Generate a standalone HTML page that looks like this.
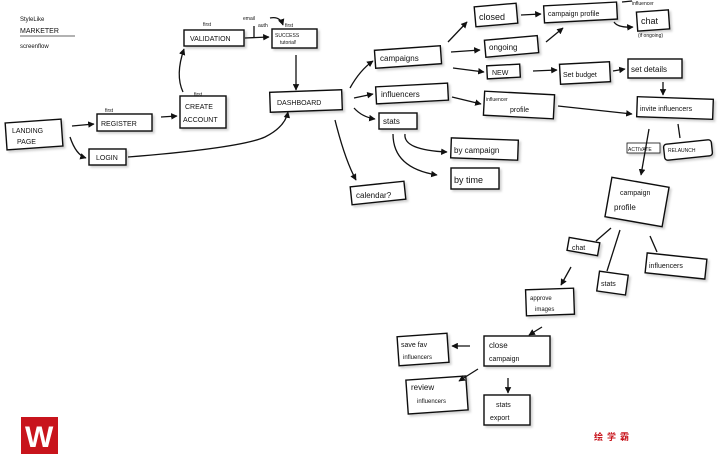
<!DOCTYPE html>
<html><head><meta charset="utf-8"><style>
html,body{margin:0;padding:0;background:#fff;}
svg{display:block}
text{font-family:"Liberation Sans",sans-serif;fill:#111;}
</style></head><body>
<svg width="720" height="470" viewBox="0 0 720 470" xmlns="http://www.w3.org/2000/svg">
<defs>
<marker id="a" viewBox="0 0 10 10" refX="9" refY="5" markerWidth="5" markerHeight="5" orient="auto"><path d="M0,0L10,5L0,10z" fill="#111"/></marker>
<filter id="s" x="-10%" y="-10%" width="130%" height="140%"><feDropShadow dx="2" dy="2" stdDeviation="1" flood-color="#000" flood-opacity="0.18"/></filter>
</defs>
<rect width="720" height="470" fill="#fff"/>
<g font-size="6">
<text x="20" y="21">StyleLike</text>
<text x="20" y="33" font-size="7">MARKETER</text>
<text x="20" y="48">screenflow</text>
</g>
<line x1="20" y1="36" x2="75" y2="36" stroke="#333" stroke-width="0.8"/>
<g fill="#fff" stroke="#111" stroke-width="1.4" filter="url(#s)">
<rect x="6" y="121" width="56" height="27" transform="rotate(-4 34 134)"/>
<rect x="97" y="114" width="55" height="17"/>
<rect x="180" y="96" width="46" height="32"/>
<rect x="184" y="30" width="60" height="16"/>
<rect x="272" y="29" width="45" height="19"/>
<rect x="89" y="149" width="37" height="16"/>
<rect x="270" y="91" width="72" height="20" transform="rotate(-2 306 101)"/>
<rect x="375" y="48" width="66" height="18" transform="rotate(-4 408 57)"/>
<rect x="376" y="85" width="72" height="17" transform="rotate(-3 412 93)"/>
<rect x="379" y="113" width="38" height="16"/>
<rect x="351" y="184" width="54" height="18" transform="rotate(-6 378 193)"/>
<rect x="451" y="139" width="67" height="20" transform="rotate(2 484 149)"/>
<rect x="451" y="168" width="48" height="21"/>
<rect x="475" y="5" width="42" height="20" transform="rotate(-5 496 15)"/>
<rect x="485" y="38" width="53" height="17" transform="rotate(-5 511 46)"/>
<rect x="487" y="65" width="33" height="13" transform="rotate(-3 503 71)"/>
<rect x="544" y="4" width="73" height="17" transform="rotate(-3 580 12)"/>
<rect x="637" y="11" width="32" height="19" transform="rotate(-4 653 20)"/>
<rect x="560" y="63" width="50" height="20" transform="rotate(-3 585 73)"/>
<rect x="628" y="59" width="54" height="19"/>
<rect x="484" y="93" width="70" height="24" transform="rotate(3 519 105)"/>
<rect x="637" y="98" width="76" height="20" transform="rotate(2 675 108)"/>
<rect x="627" y="143" width="33" height="10" stroke-width="0.8"/>
<rect x="664" y="142" width="48" height="16" rx="3" transform="rotate(-6 688 150)"/>
<rect x="608" y="182" width="58" height="40" transform="rotate(10 637 202)"/>
<rect x="568" y="240" width="31" height="13" transform="rotate(10 583 246)"/>
<rect x="598" y="273" width="29" height="20" transform="rotate(8 612 283)"/>
<rect x="646" y="256" width="60" height="20" transform="rotate(6 676 266)"/>
<rect x="526" y="289" width="48" height="26" transform="rotate(-2 550 302)"/>
<rect x="484" y="336" width="66" height="30"/>
<rect x="398" y="335" width="50" height="29" transform="rotate(-4 423 349)"/>
<rect x="407" y="378" width="60" height="34" transform="rotate(-4 437 395)"/>
<rect x="484" y="395" width="46" height="30"/>
</g>
<g fill="none" stroke="#111" stroke-width="1.3">
<line x1="72" y1="126" x2="94" y2="124" marker-end="url(#a)"/>
<path d="M70 137 Q76 155 86 158" marker-end="url(#a)"/>
<line x1="161" y1="117" x2="177" y2="116" marker-end="url(#a)"/>
<path d="M183 92 Q175 75 184 49" marker-end="url(#a)"/>
<line x1="245" y1="38" x2="269" y2="37" marker-end="url(#a)"/>
<line x1="254" y1="37" x2="254" y2="26"/>
<path d="M270 18 Q280 16 283 25" marker-end="url(#a)"/>
<line x1="296" y1="55" x2="296" y2="90" marker-end="url(#a)"/>
<path d="M128 157 Q240 148 265 137 Q285 127 288 112" marker-end="url(#a)"/>
<path d="M350 88 Q360 70 373 61" marker-end="url(#a)"/>
<line x1="354" y1="98" x2="373" y2="94" marker-end="url(#a)"/>
<path d="M354 108 Q362 117 375 119" marker-end="url(#a)"/>
<path d="M335 120 Q345 160 356 180" marker-end="url(#a)"/>
<line x1="448" y1="42" x2="467" y2="22" marker-end="url(#a)"/>
<line x1="451" y1="52" x2="480" y2="50" marker-end="url(#a)"/>
<line x1="453" y1="68" x2="484" y2="72" marker-end="url(#a)"/>
<line x1="521" y1="15" x2="541" y2="14" marker-end="url(#a)"/>
<line x1="546" y1="42" x2="563" y2="28" marker-end="url(#a)"/>
<path d="M614 22 Q618 28 633 27" marker-end="url(#a)"/>
<line x1="622" y1="2" x2="632" y2="1"/>
<line x1="533" y1="71" x2="557" y2="70" marker-end="url(#a)"/>
<line x1="613" y1="71" x2="625" y2="69" marker-end="url(#a)"/>
<line x1="663" y1="82" x2="663" y2="95" marker-end="url(#a)"/>
<line x1="452" y1="97" x2="481" y2="104" marker-end="url(#a)"/>
<line x1="558" y1="106" x2="632" y2="114" marker-end="url(#a)"/>
<path d="M405 134 Q403 150 447 152" marker-end="url(#a)"/>
<path d="M393 134 Q393 168 437 175" marker-end="url(#a)"/>
<line x1="649" y1="129" x2="641" y2="175" marker-end="url(#a)"/>
<line x1="678" y1="124" x2="680" y2="138"/>
<line x1="611" y1="228" x2="596" y2="241"/>
<line x1="620" y1="230" x2="607" y2="271"/>
<line x1="650" y1="236" x2="657" y2="252"/>
<line x1="571" y1="267" x2="561" y2="285" marker-end="url(#a)"/>
<line x1="542" y1="327" x2="529" y2="335" marker-end="url(#a)"/>
<line x1="470" y1="346" x2="452" y2="346" marker-end="url(#a)"/>
<line x1="478" y1="369" x2="459" y2="381" marker-end="url(#a)"/>
<line x1="508" y1="378" x2="508" y2="393" marker-end="url(#a)"/>
</g>
<g font-size="7">
<text x="12" y="133">LANDING</text><text x="17" y="144">PAGE</text>
<text x="101" y="126">REGISTER</text>
<text x="185" y="109">CREATE</text><text x="183" y="122">ACCOUNT</text>
<text x="190" y="41">VALIDATION</text>
<text x="275" y="37" font-size="5">SUCCESS</text><text x="280" y="44" font-size="5">tutorial!</text>
<text x="96" y="160">LOGIN</text>
<text x="277" y="105">DASHBOARD</text>
<text x="380" y="61" font-size="8">campaigns</text>
<text x="381" y="97" font-size="8">influencers</text>
<text x="383" y="124" font-size="8">stats</text>
<text x="356" y="198" font-size="8">calendar?</text>
<text x="454" y="153" font-size="8">by campaign</text>
<text x="454" y="183" font-size="9">by time</text>
<text x="479" y="20" font-size="9">closed</text>
<text x="489" y="50" font-size="8">ongoing</text>
<text x="492" y="75" font-size="7">NEW</text>
<text x="548" y="16" font-size="7">campaign profile</text>
<text x="632" y="5" font-size="5">influencer</text>
<text x="641" y="24" font-size="9">chat</text>
<text x="638" y="37" font-size="5">(if ongoing)</text>
<text x="563" y="77" font-size="7">Set budget</text>
<text x="631" y="72" font-size="8">set details</text>
<text x="486" y="101" font-size="5">influencer</text><text x="510" y="112" font-size="7">profile</text>
<text x="640" y="111" font-size="7">invite influencers</text>
<text x="628" y="151" font-size="5">ACTIVATE</text>
<text x="668" y="152" font-size="5">RELAUNCH</text>
<text x="620" y="195" font-size="7">campaign</text><text x="614" y="210" font-size="8">profile</text>
<text x="572" y="250" font-size="7">chat</text>
<text x="601" y="286" font-size="7">stats</text>
<text x="649" y="268" font-size="7">influencers</text>
<text x="530" y="300" font-size="6">approve</text><text x="535" y="311" font-size="6">images</text>
<text x="489" y="348" font-size="8">close</text><text x="489" y="361" font-size="7">campaign</text>
<text x="401" y="347" font-size="7">save fav</text><text x="403" y="359" font-size="6">influencers</text>
<text x="411" y="390" font-size="8">review</text><text x="417" y="403" font-size="6">influencers</text>
<text x="496" y="407" font-size="7">stats</text><text x="490" y="420" font-size="7">export</text>
<text x="203" y="26" font-size="5">first</text>
<text x="194" y="96" font-size="5">first</text>
<text x="105" y="112" font-size="5">first</text>
<text x="243" y="20" font-size="5">email</text><text x="258" y="27" font-size="5">auth</text>
<text x="285" y="27" font-size="5">first</text>
</g>
<rect x="21" y="417" width="37" height="37" fill="#c8141c"/>
<text x="25" y="447" font-size="30" font-weight="bold" style="fill:#fff">W</text>
<text x="594" y="440" font-size="9" font-weight="bold" style="fill:#c8141c;font-family:'Liberation Sans','Noto Sans CJK SC',sans-serif;letter-spacing:4px">绘学霸</text>
</svg>
</body></html>
